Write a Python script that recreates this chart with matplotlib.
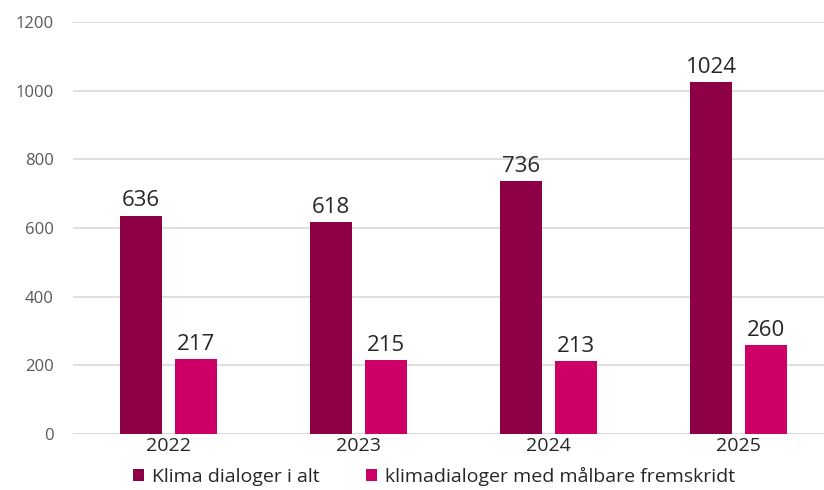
import matplotlib.pyplot as plt
import numpy as np

years = ["2022", "2023", "2024", "2025"]
total = [636, 618, 736, 1024]
measurable = [217, 215, 213, 260]
labels = ["Klima dialoger i alt", "klimadialoger med målbare fremskridt"]

plt.rcParams['font.family'] = ['Open Sans', 'DejaVu Sans']

fig = plt.figure(figsize=(8.24, 4.9), dpi=100)
ax = fig.add_axes([73 / 824, 1 - 434 / 490, 1 - 73 / 824, (434 - 22) / 490])

x = np.arange(len(years))
w = 0.22
b1 = ax.bar(x - 0.143, total, w, color='#8E0046', label=labels[0], zorder=2)
b2 = ax.bar(x + 0.145, measurable, w, color='#CC0066', label=labels[1], zorder=2)

for bars in (b1, b2):
    for r in bars:
        ax.annotate(str(int(r.get_height())), (r.get_x() + r.get_width() / 2, r.get_height()),
                    xytext=(0, 3), textcoords='offset points', ha='center', va='bottom',
                    fontsize=16, color='#262626')

ax.set_xlim(-0.5, 3.45)
ax.set_ylim(0, 1200)
ax.set_yticks(range(0, 1201, 200))
ax.set_xticks(x)
ax.set_xticklabels(years, fontsize=14, color='#262626')
ax.tick_params(axis='y', length=0, pad=14, labelsize=12, labelcolor='#595959')
ax.tick_params(axis='x', length=0, pad=2)
ax.yaxis.grid(True, color='#D9D9D9', linewidth=1.2, zorder=0)
for s in ax.spines.values():
    s.set_visible(False)
ax.axhline(0, color='#D9D9D9', linewidth=1.2, zorder=1)

fig.legend(handles=[b1, b2], loc='center left', bbox_to_anchor=(133 / 824, 1 - 476 / 490),
           ncol=2, frameon=False, fontsize=14, handlelength=0.57, handleheight=0.57,
           handletextpad=0.4, columnspacing=2.4, labelcolor='#262626', borderpad=0,
           borderaxespad=0)

fig.savefig('out.png', dpi=100)
